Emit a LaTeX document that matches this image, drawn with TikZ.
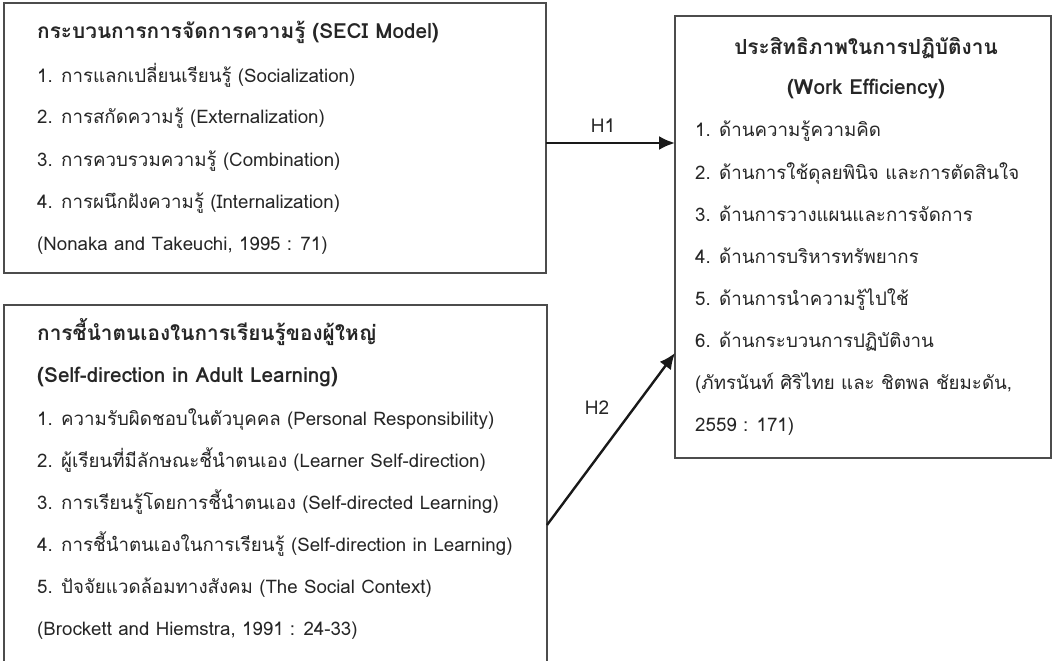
\documentclass[tikz,border=0pt]{standalone}
\usepackage{fontspec}
\setmainfont[Script=Thai]{Loma}
\usetikzlibrary{arrows.meta}
\begin{document}
\begin{tikzpicture}[x=1pt,y=-1pt,
  box/.style={draw=black!70, line width=1.2pt, inner sep=0pt, outer sep=0pt, anchor=north west},
  txt/.style={anchor=base west, inner sep=0pt, font=\fontsize{18.7}{22}\selectfont, text=black!85},
  hd/.style={txt, font=\fontsize{20.8}{24}\selectfont\bfseries},
  hdc/.style={hd, anchor=base},
  lbl/.style={inner sep=0pt, font=\fontsize{19}{22}\selectfont, text=black!85},
  arr/.style={-{Latex[length=16pt,width=14pt]}, line width=2.4pt, black!90}]
\useasboundingbox (0,0) rectangle (1053,661);
\fill[white] (0,0) rectangle (1053,661);
% boxes
\node[box, minimum width=542pt, minimum height=270pt] (b1) at (4,3) {};
\node[box, minimum width=543pt, minimum height=400pt] (b2) at (4,305) {};
\node[box, minimum width=376pt, minimum height=442pt] (b3) at (675,16) {};
% box 1 text
\node[hd]  (t11) at (37,39)  {กระบวนการการจัดการความรู้ (SECI Model)};
\node[txt] (t12) at (37,82)  {1. การแลกเปลี่ยนเรียนรู้ (Socialization)};
\node[txt] (t13) at (37,124) {2. การสกัดความรู้ (Externalization)};
\node[txt] (t14) at (37,166) {3. การควบรวมความรู้ (Combination)};
\node[txt] (t15) at (37,208) {4. การผนึกฝังความรู้ (Internalization)};
\node[txt] (t16) at (37,250) {(Nonaka and Takeuchi, 1995 : 71)};
% box 2 text
\node[hd]  (t21) at (37,340) {การชี้นำตนเองในการเรียนรู้ของผู้ใหญ่};
\node[hd]  (t22) at (37,382) {(Self-direction in Adult Learning)};
\node[txt] (t23) at (37,425) {1. ความรับผิดชอบในตัวบุคคล (Personal Responsibility)};
\node[txt] (t24) at (37,467) {2. ผู้เรียนที่มีลักษณะชี้นำตนเอง (Learner Self-direction)};
\node[txt] (t25) at (37,509) {3. การเรียนรู้โดยการชี้นำตนเอง (Self-directed Learning)};
\node[txt] (t26) at (37,551) {4. การชี้นำตนเองในการเรียนรู้ (Self-direction in Learning)};
\node[txt] (t27) at (37,593) {5. ปัจจัยแวดล้อมทางสังคม (The Social Context)};
\node[txt] (t28) at (37,635) {(Brockett and Hiemstra, 1991 : 24-33)};
% box 3 text
\node[hdc] (t31) at (866,55)  {ประสิทธิภาพในการปฏิบัติงาน};
\node[hdc] (t32) at (866,95)  {(Work Efficiency)};
\node[txt] (t33) at (695,136) {1. ด้านความรู้ความคิด};
\node[txt] (t34) at (695,179) {2. ด้านการใช้ดุลยพินิจ และการตัดสินใจ};
\node[txt] (t35) at (695,221) {3. ด้านการวางแผนและการจัดการ};
\node[txt] (t36) at (695,263) {4. ด้านการบริหารทรัพยากร};
\node[txt] (t37) at (695,305) {5. ด้านการนำความรู้ไปใช้};
\node[txt] (t38) at (695,347) {6. ด้านกระบวนการปฏิบัติงาน};
\node[txt] (t39) at (695,389) {(ภัทรนันท์ ศิริไทย และ ชิตพล ชัยมะดัน,};
\node[txt] (t310) at (695,431) {2559 : 171)};
% connectors
\draw[arr] ([yshift=-5pt]b1.east) -- ([yshift=-5pt]b1.east -| b3.west);
\draw[arr] ([yshift=-20pt]b2.east) -- ([yshift=-116pt]b3.west);
\node[lbl] (h1) at (603,126) {H1};
\node[lbl] (h2) at (597,408) {H2};
\end{tikzpicture}
\end{document}
